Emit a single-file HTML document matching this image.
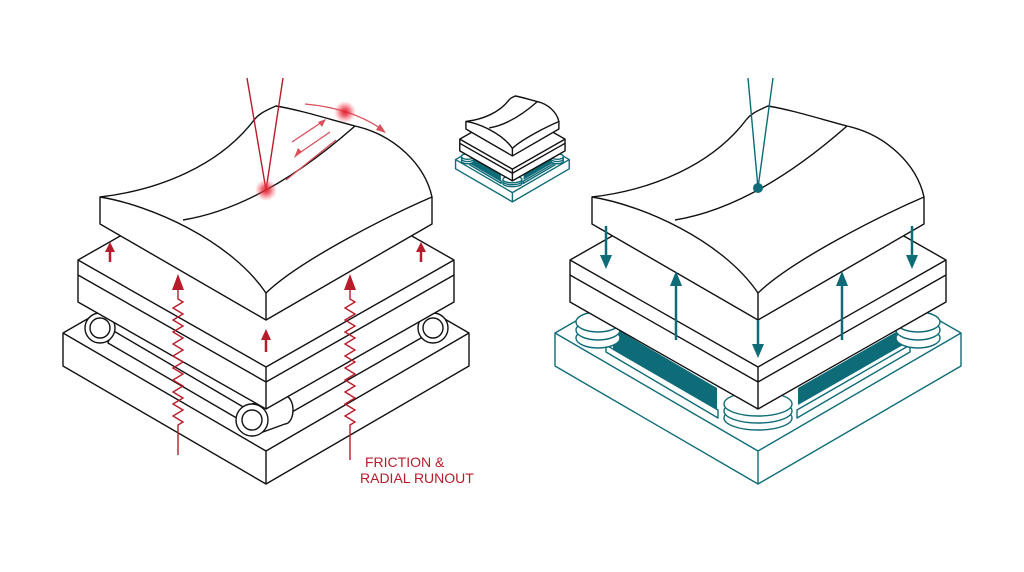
<!DOCTYPE html>
<html><head><meta charset="utf-8"><style>
html,body{margin:0;padding:0;background:#fff}
svg{display:block}
svg *{vector-effect:non-scaling-stroke}
.k{fill:#fff;stroke:#111;stroke-width:1.4;stroke-linejoin:round}
.t{fill:#fff;stroke:#0e6b78;stroke-width:1.4;stroke-linejoin:round}
.n{fill:none}
</style></head><body>
<svg width="1024" height="572" viewBox="0 0 1024 572" xmlns="http://www.w3.org/2000/svg">
<defs>
<radialGradient id="glow"><stop offset="0" stop-color="#e0202e" stop-opacity="1"/><stop offset="0.4" stop-color="#e83040" stop-opacity="0.7"/><stop offset="1" stop-color="#ff6070" stop-opacity="0"/></radialGradient>
<g id="blk">
  <path class="k" d="M100,197 L100,224 L266,320 L432,224 L432,197 C425,165 395,135 355,126 C325,118 300,110 276,106 C262,112 258,115 254,120 C220,165 160,190 100,197 Z"/>
  <path class="k" d="M100,197 C150,205 230,240 266,293 C300,260 390,215 432,197"/>
  <path class="k n" d="M266,293 L266,320"/>
  <path class="k n" d="M183,220 Q263,207 355,126"/>
</g>
<g id="plate">
  <path class="k" d="M78,260 L78,302 L266,409 L454,302 L454,260 L266,153 Z"/>
  <path class="k n" d="M78,260 L266,367 L454,260 M78,275 L266,382 L454,275 M266,367 L266,409"/>
</g>
<g id="rfig">
  <path class="t" d="M555,333 L555,366 L758,484 L961,366 L961,333 L758,216 Z"/>
  <path class="t n" d="M555,333 L758,451 L961,333 M758,451 L758,484"/>
  <path class="t" d="M606,345 L606,352 L718,418 L718,410 Z"/>
  <path class="t" d="M797,410 L797,418 L910,352 L910,345 Z"/>
  <path d="M613,327 L613,350 L717,410 L717,388 Z" fill="#0e6b78"/>
  <path d="M798,388 L798,405 L903,345 L903,328 Z" fill="#0e6b78"/>
  <ellipse class="t" cx="598" cy="338" rx="22" ry="10"/>
  <ellipse class="t" cx="598" cy="330" rx="22" ry="10"/>
  <ellipse class="t" cx="598" cy="322" rx="22" ry="10"/>
  <ellipse class="t" cx="918" cy="338" rx="22" ry="10"/>
  <ellipse class="t" cx="918" cy="330" rx="22" ry="10"/>
  <ellipse class="t" cx="918" cy="322" rx="22" ry="10"/>
  <ellipse class="t" cx="758" cy="418" rx="34" ry="12"/>
  <ellipse class="t" cx="758" cy="411" rx="34" ry="12"/>
  <ellipse class="t" cx="758" cy="404" rx="34" ry="12"/>
  <use href="#plate" transform="translate(492,0)"/>
  <use href="#blk" transform="translate(492,0)"/>
</g>
</defs>

<!-- LEFT FIGURE -->
<path class="k" d="M63,333 L63,366 L266,484 L469,366 L469,333 L266,216 Z"/>
<path class="k n" d="M63,333 L266,451 L469,333 M266,451 L266,484"/>
<path class="k" d="M112,330 L245,408 L240,420 L108,343 Z"/>
<path class="k" d="M285,398 L420,320 L428,334 L292,412 Z"/>
<circle class="k" cx="100" cy="328" r="15"/><circle class="k" cx="100" cy="328" r="10"/>
<circle class="k" cx="433" cy="328" r="15"/><circle class="k" cx="433" cy="328" r="10"/>
<path class="k" d="M252,404 L285,396 A8,14 0 0 1 285,424 L252,436 Z"/>
<circle class="k" cx="252" cy="420" r="16"/><circle class="k" cx="252" cy="420" r="10"/>
<use href="#plate"/>
<use href="#blk"/>

<g stroke="#b71c2b" fill="none" stroke-width="1.4">
  <path d="M247,78 L266,190 L283,78"/>
  <path d="M178,455 L178,425 l5,-3 l-10,-6 l10,-6 l-10,-6 l10,-6 l-10,-6 l10,-6 l-10,-6 l10,-6 l-10,-6 l10,-6 l-10,-6 l10,-6 l-10,-6 l10,-6 l-10,-6 l10,-6 l-10,-6 l10,-6 l-10,-6 l10,-6 l-5,-3 L178,288"/>
  <path d="M350,460 L350,425 l5,-3 l-10,-6 l10,-6 l-10,-6 l10,-6 l-10,-6 l10,-6 l-10,-6 l10,-6 l-10,-6 l10,-6 l-10,-6 l10,-6 l-10,-6 l10,-6 l-10,-6 l10,-6 l-10,-6 l10,-6 l-10,-6 l10,-6 l-5,-3 L350,288"/>
  <path d="M110,262 L110,250 M421,262 L421,250 M266,352 L266,338" stroke-width="2.5"/>
</g>
<g fill="#b71c2b">
  <polygon points="178,274 172,290 184,290"/>
  <polygon points="350,274 344,290 356,290"/>
  <polygon points="110,242 105,252 115,252"/>
  <polygon points="421,242 416,252 426,252"/>
  <polygon points="266,329 261,340 271,340"/>
</g>
<g stroke="#d9505a" fill="none" stroke-width="1.3">
  <path d="M305,104 Q350,108 380,128"/>
  <path d="M292,142 L322,122 M298,154 L330,132 M286,180 L336,140"/>
</g>
<g fill="#d9505a">
  <polygon points="386,133 376,130 380,124"/>
  <polygon points="326,119 318,122 322,127"/>
  <polygon points="294,158 302,152 298,148"/>
</g>
<circle cx="266" cy="190" r="11" fill="url(#glow)"/>
<circle cx="345" cy="112" r="11" fill="url(#glow)"/>
<text x="365" y="467" font-family="Liberation Sans, sans-serif" font-size="14" fill="#b71c2b">FRICTION &amp;</text>
<text x="360" y="483" font-family="Liberation Sans, sans-serif" font-size="14" fill="#b71c2b">RADIAL RUNOUT</text>

<use href="#rfig"/>
<g stroke="#0e6b78" fill="none" stroke-width="1.4">
  <path d="M748,78 L758,188 L773,78"/>
</g>
<circle cx="758" cy="188" r="5" fill="#0e6b78"/>
<g stroke="#0e6b78" stroke-width="2.5">
  <path d="M606,226 L606,258 M912,226 L912,258 M758,320 L758,347 M676,340 L676,284 M842,340 L842,284"/>
</g>
<g fill="#0e6b78">
  <polygon points="606,269 600,255 612,255"/>
  <polygon points="912,269 906,255 918,255"/>
  <polygon points="758,358 752,344 764,344"/>
  <polygon points="676,271 670,286 682,286"/>
  <polygon points="842,271 836,286 848,286"/>
</g>

<use href="#rfig" transform="translate(455,96) scale(0.28) translate(-553,-106)"/>
</svg>
</body></html>
